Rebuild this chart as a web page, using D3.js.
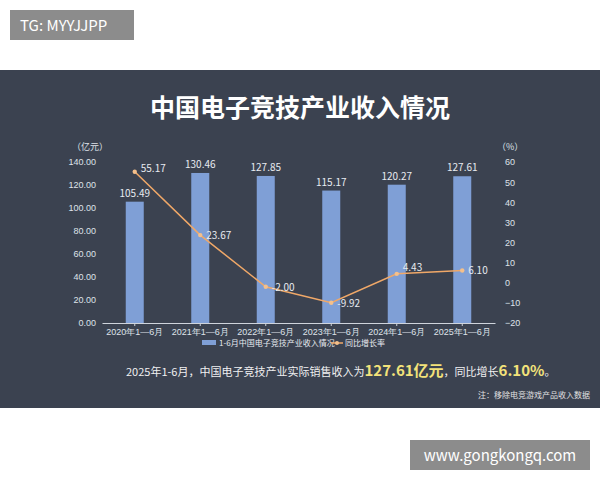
<!DOCTYPE html><html><head><meta charset="utf-8"><script src="https://cdn.jsdelivr.net/npm/d3@7"></script>
<style>body{margin:0;background:#fff}svg{display:block;font-family:"Noto Sans CJK SC","Noto Sans",sans-serif}</style></head><body><svg width="600" height="480"></svg>
<script>
const categories=["2020年1—6月","2021年1—6月","2022年1—6月","2023年1—6月","2024年1—6月","2025年1—6月"];
const revenue=[105.49,130.46,127.85,115.17,120.27,127.61];
const growth=[55.17,23.67,-2.00,-9.92,4.43,6.10];
const leftTicks=[0,20,40,60,80,100,120,140];
const rightTicks=[-20,-10,0,10,20,30,40,50,60];
const svg=d3.select("svg");
svg.append("rect").attr("x",10).attr("y",10).attr("width",124).attr("height",30).attr("fill","#8c8c8c");
svg.append("text").attr("x",20).attr("y",31).attr("fill","#fff").attr("font-size",15).text("TG: MYYJJPP");
svg.append("rect").attr("x",0).attr("y",70).attr("width",600).attr("height",338).attr("fill","#3b4250");
svg.append("rect").attr("x",410).attr("y",440).attr("width",180).attr("height",30).attr("fill","#8c8c8c");
svg.append("text").attr("x",500).attr("y",461).attr("text-anchor","middle").attr("fill","#fff").attr("font-size",15).text("www.gongkongq.com");
svg.append("text").attr("x",300).attr("y",117).attr("text-anchor","middle").attr("fill","#fff").attr("font-size",25).attr("font-weight","bold").text("中国电子竞技产业收入情况");
const x=d3.scaleBand().domain(categories).range([102,495]);
const yL=d3.scaleLinear().domain([0,140]).range([323,162]);
const yR=d3.scaleLinear().domain([-20,60]).range([323,162]);
const g=svg.append("g").attr("fill","#dfe3ea").attr("font-size",9);
g.append("text").attr("x",72).attr("y",150).text("（亿元）");
g.append("text").attr("x",497).attr("y",150).text("（%）");
const la=svg.append("g").attr("transform","translate(102,0)").call(d3.axisLeft(yL).tickValues(leftTicks).tickFormat(d3.format(".2f")).tickSize(0).tickPadding(6));
la.select(".domain").remove();
const ra=svg.append("g").attr("transform","translate(495,0)").call(d3.axisRight(yR).tickValues(rightTicks).tickSize(0).tickPadding(10));
ra.select(".domain").remove();
const xa=svg.append("g").attr("transform","translate(0,323)").call(d3.axisBottom(x).tickSize(3).tickSizeOuter(0));
svg.selectAll(".tick text").attr("fill","#dfe3ea").attr("font-size",9);
xa.selectAll("line,path").attr("stroke","#cfd4dc");
svg.selectAll(".tick line").attr("stroke","#cfd4dc");
const bw=18;
svg.append("g").selectAll("rect").data(revenue).join("rect")
 .attr("x",(d,i)=>x(categories[i])+x.bandwidth()/2-bw/2).attr("y",d=>yL(d)).attr("width",bw).attr("height",d=>323-yL(d)).attr("fill","#7f9fd6");
svg.append("g").selectAll("text").data(revenue).join("text")
 .attr("x",(d,i)=>x(categories[i])+x.bandwidth()/2).attr("y",d=>yL(d)-5).attr("text-anchor","middle").attr("fill","#e8ebf0").attr("font-size",10).text(d=>d.toFixed(2));
const cx=i=>x(categories[i])+x.bandwidth()/2;
svg.append("path").datum(growth).attr("d",d3.line().x((d,i)=>cx(i)).y(d=>yR(d))).attr("fill","none").attr("stroke","#f0a868").attr("stroke-width",1.5);
svg.append("g").selectAll("circle").data(growth).join("circle").attr("cx",(d,i)=>cx(i)).attr("cy",d=>yR(d)).attr("r",2.2).attr("fill","#f4c08c");
svg.append("g").selectAll("text").data(growth).join("text")
 .attr("x",(d,i)=>cx(i)+6).attr("y",(d,i)=>yR(d)+(i==0?0:i==3?4:i==4?-3:4)).attr("fill","#e8ebf0").attr("font-size",10).text(d=>d.toFixed(2));
const lg=svg.append("g");
lg.append("rect").attr("x",202).attr("y",340).attr("width",14).attr("height",5).attr("fill","#7f9fd6");
lg.append("text").attr("x",219).attr("y",346).attr("fill","#e8ebf0").attr("font-size",8).text("1-6月中国电子竞技产业收入情况");
lg.append("line").attr("x1",331).attr("x2",343).attr("y1",343).attr("y2",343).attr("stroke","#f0a868").attr("stroke-width",1.5);
lg.append("circle").attr("cx",337).attr("cy",343).attr("r",2).attr("fill","#f4c08c");
lg.append("text").attr("x",345).attr("y",346).attr("fill","#e8ebf0").attr("font-size",8).text("同比增长率");
const s=svg.append("text").attr("x",126).attr("y",376).attr("fill","#f0f0f0").attr("font-size",11);
s.append("tspan").text("2025年1-6月，中国电子竞技产业实际销售收入为");
s.append("tspan").attr("fill","#f3e27a").attr("font-size",15).attr("font-weight","bold").text("127.61亿元");
s.append("tspan").text("，同比增长");
s.append("tspan").attr("fill","#f3e27a").attr("font-size",15).attr("font-weight","bold").text("6.10%");
s.append("tspan").text("。");
svg.append("text").attr("x",590).attr("y",398).attr("text-anchor","end").attr("fill","#e0e0e0").attr("font-size",8).text("注：移除电竞游戏产品收入数据");
</script></body></html>
